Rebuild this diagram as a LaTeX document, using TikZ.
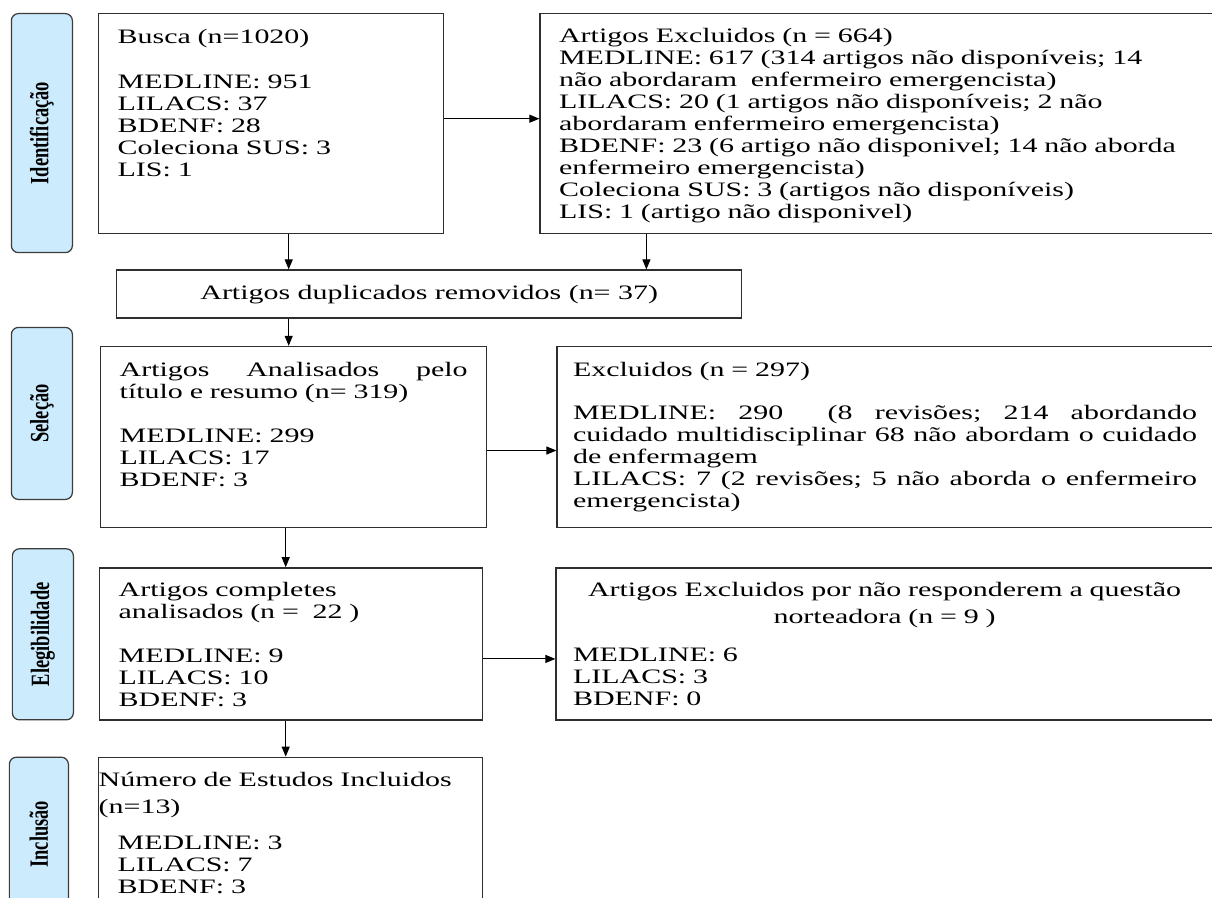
\documentclass[tikz,border=0pt]{standalone}
\usepackage{fontspec}
\setmainfont{Liberation Serif}[FakeStretch=1.46]
\newfontfamily\tabfont{Liberation Serif}[FakeStretch=0.7]
\usetikzlibrary{arrows.meta,positioning}
\definecolor{ink}{HTML}{2E2E2E}
\definecolor{ink2}{HTML}{3C3C3C}
\definecolor{tabblue}{HTML}{CCEBFD}
\newcommand{\spread}[1]{\makebox[\linewidth][s]{#1}}
\newcommand{\midline}[1]{\makebox[\linewidth][c]{#1}}

\begin{document}
\begin{tikzpicture}[
  font=\fontsize{11.67pt}{12.52pt}\selectfont, >={Triangle[length=0.2cm, width=0.16cm]},
  box/.style={draw=ink, line width=0.8pt, anchor=north west, align=left, inner ysep=0pt, inner xsep=0.38cm},
  tab/.style={draw=ink2, line width=0.7pt, rounded corners=0.14cm, fill=tabblue, anchor=north east, inner sep=0pt,
              minimum width=1.22cm, font=\tabfont\bfseries\fontsize{15pt}{18pt}\selectfont},
  arr/.style={->, line width=0.6pt, draw=black}
]
\fill[white] (0,0) rectangle (24.24,-17.96);
\useasboundingbox (0,0) rectangle (24.24,-17.96);
\clip (0,0) rectangle (24.24,-17.96);
% ---------------- identification
\node[box, text width=6.14cm, text height=0.60cm, text depth=3.80cm] (busca) at (1.96,-0.26)
  {Busca (n=1020)\\[0.46cm]MEDLINE: 951\\LILACS: 37\\BDENF: 28\\Coleciona SUS: 3\\LIS: 1};
\node[box, right=1.9cm of busca.north east, anchor=north west, text width=12.70cm, text height=0.58cm, text depth=3.82cm] (excl1)
  {Artigos Excluidos (n = 664)\\
   MEDLINE: 617 (314 artigos não disponíveis; 14\\
   não abordaram~ enfermeiro emergencista)\\
   LILACS: 20 (1 artigos não disponíveis; 2 não\\
   abordaram enfermeiro emergencista)\\
   BDENF: 23 (6 artigo não disponivel; 14 não aborda\\
   enfermeiro emergencista)\\
   Coleciona SUS: 3 (artigos não disponíveis)\\
   LIS: 1 (artigo não disponivel)};
\node[box, below=0.7cm of busca.south west, anchor=north west, xshift=0.36cm, align=center, inner sep=0pt,
      minimum width=12.5cm, minimum height=0.96cm] (dup) {Artigos duplicados removidos (n= 37)};
\node[tab, left=0.5cm of busca.north west, anchor=north east, minimum height=4.78cm] (tabid) {\rotatebox{90}{Identificação}};
% ---------------- selection
\node[box, below=0.54cm of dup.south west, anchor=north west, xshift=-0.32cm, text width=6.96cm, text height=0.60cm, text depth=3.02cm] (anal)
  {\spread{Artigos\hfill Analisados\hfill pelo}\\título e resumo (n= 319)\\[0.44cm]MEDLINE: 299\\LILACS: 17\\BDENF: 3};
\node[box, right=1.38cm of anal.north east, anchor=north west, inner xsep=0.32cm, text width=12.48cm, text height=0.60cm, text depth=3.02cm] (excl2)
  {Excluidos (n = 297)\\[0.42cm]
   \spread{MEDLINE:\hfill 290\hfill\hfill (8\hfill revisões;\hfill 214\hfill abordando}\\
   \spread{cuidado\hfill multidisciplinar\hfill 68\hfill não\hfill abordam\hfill o\hfill cuidado}\\
   de enfermagem\\
   \spread{LILACS:\hfill 7\hfill (2\hfill revisões;\hfill 5\hfill não\hfill aborda\hfill o\hfill enfermeiro}\\
   emergencista)};
\node[tab, left=0.54cm of anal.north west, anchor=north east, yshift=0.38cm, minimum height=3.44cm] (tabsel) {\rotatebox{90}{Seleção}};
% ---------------- eligibility
\node[box, below=0.78cm of anal.south west, anchor=north west, xshift=-0.02cm, text width=6.90cm, text height=0.58cm, text depth=2.46cm] (comp)
  {Artigos completes\\analisados (n = ~22 )\\[0.44cm]MEDLINE: 9\\LILACS: 10\\BDENF: 3};
\node[box, right=1.44cm of comp.north east, anchor=north west, inner xsep=0.34cm, text width=12.46cm, text height=0.58cm, text depth=2.46cm] (excl3)
  {\midline{Artigos Excluidos por não responderem a questão}\\[0.1cm]
   \midline{norteadora (n = 9 )}\\[0.32cm]
   MEDLINE: 6\\LILACS: 3\\BDENF: 0};
\node[tab, left=0.5cm of comp.north west, anchor=north east, yshift=0.38cm, minimum height=3.42cm] (tabeleg) {\rotatebox{90}{Elegibilidade}};
% ---------------- inclusion
\node[box, below=0.72cm of comp.south west, anchor=north west, xshift=-0.02cm, text width=6.92cm, text height=0.58cm, text depth=2.50cm] (incl)
  {\hspace*{-0.38cm}Número de Estudos Incluidos\\[0.1cm]\hspace*{-0.38cm}(n=13)\\[0.28cm]MEDLINE: 3\\LILACS: 7\\BDENF: 3};
\node[tab, left=0.58cm of incl.north west, anchor=north east, minimum width=1.18cm, minimum height=3.08cm] (tabinc) {\rotatebox{90}{Inclusão}};
% ---------------- arrows
\coordinate (a1) at ([yshift=0.1cm]busca.east);
\draw[arr] (a1) -- (a1 -| excl1.west);
\coordinate (a2) at ([xshift=0.35cm]busca.south);
\draw[arr] (a2) -- (a2 |- dup.north);
\coordinate (a3) at ([xshift=2.14cm]excl1.south west);
\draw[arr] (a3) -- (a3 |- dup.north);
\draw[arr] (a2 |- dup.south) -- (a2 |- anal.north);
\coordinate (a4) at ([yshift=-0.27cm]anal.east);
\draw[arr] (a4) -- (a4 -| excl2.west);
\coordinate (a5) at ([xshift=-0.16cm]anal.south);
\draw[arr] (a5) -- (a5 |- comp.north);
\coordinate (a6) at ([yshift=-0.3cm]comp.east);
\draw[arr] (a6) -- (a6 -| excl3.west);
\draw[arr] (a5 |- comp.south) -- (a5 |- incl.north);
\end{tikzpicture}
\end{document}
